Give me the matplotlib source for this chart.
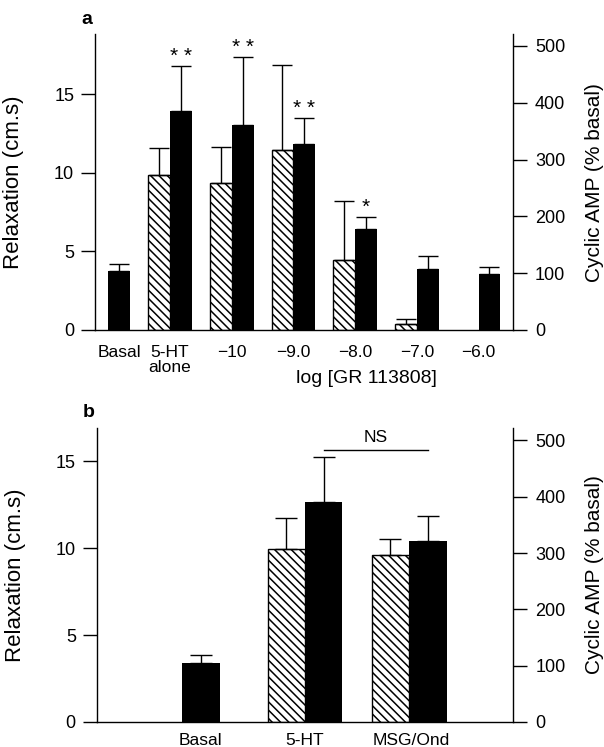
import matplotlib
matplotlib.use("Agg")
import matplotlib.pyplot as plt
import numpy as np

plt.rcParams['font.family'] = ['Liberation Sans', 'DejaVu Sans']
plt.rcParams['hatch.linewidth'] = 1.1
plt.rcParams['axes.linewidth'] = 1.0

# ---- panel a data ----
a_labels = ['Basal', '5-HT\nalone', '\u221210', '\u22129.0', '\u22128.0', '\u22127.0', '\u22126.0']
a_relax_x = [1, 2, 3, 4, 5]
a_relax = [9.85, 9.33, 11.44, 4.45, 0.38]
a_relax_err = [1.75, 2.32, 5.41, 3.75, 0.34]
a_camp_x = [0, 1, 2, 3, 4, 5, 6]
a_camp = [103, 386, 361, 327, 177, 107, 99]
a_camp_err = [13, 79, 119, 46, 21, 23, 12]
a_stars = ['', '**', '**', '**', '*', '', '']

# ---- panel b data ----
b_labels = ['Basal', '5-HT', 'MSG/Ond']
b_relax_x = [1, 2]
b_relax = [9.96, 9.62]
b_relax_err = [1.74, 0.91]
b_camp_x = [0, 1, 2]
b_camp = [104, 390, 321]
b_camp_err = [15, 80, 45]

W, H = 604, 747
fig = plt.figure(figsize=(W / 100, H / 100), dpi=100)


def px_axes(left, right, top, bottom):
    return fig.add_axes([left / W, 1 - bottom / H, (right - left) / W, (bottom - top) / H])


def style(ax, ax2, ymax, ymax2, xpad):
    ax.set_ylim(0, ymax)
    ax2.set_ylim(0, ymax2)
    for s in ['top', 'right']:
        ax.spines[s].set_visible(False)
    for s in ['top', 'left', 'bottom']:
        ax2.spines[s].set_visible(False)
    ax.tick_params(axis='y', direction='out', length=10, width=1.0, labelsize=13, pad=5)
    ax.tick_params(axis='x', length=0, labelsize=12.5, pad=xpad)
    ax2.tick_params(axis='y', direction='out', length=10, width=1.0, labelsize=13, pad=6)
    ax.set_yticks([0, 5, 10, 15])
    ax2.set_yticks([0, 100, 200, 300, 400, 500])
    ax.set_ylabel('Relaxation (cm.s)', fontsize=16)
    ax2.set_ylabel('Cyclic AMP (% basal)', fontsize=15)
    ax.yaxis.set_label_coords(-0.17, 0.5)
    ax2.yaxis.set_label_coords(1.172, 0.5)


err_kw = dict(fmt='none', ecolor='black', elinewidth=1.0, capthick=1.0)

# ---------------- panel a ----------------
ax = px_axes(95, 512.7, 34.5, 330)
ax2 = ax.twinx()
w = 0.355
ax.bar(a_relax_x, a_relax, width=-w, align='edge', facecolor='white',
       edgecolor='black', hatch='\\\\\\\\', linewidth=1.0, zorder=2)
ax.errorbar(np.array(a_relax_x) - w / 2, a_relax,
            yerr=[np.zeros(len(a_relax)), a_relax_err], capsize=7, **err_kw)
ax2.bar(a_camp_x, a_camp, width=w, align='edge', color='black', linewidth=0)
ax2.errorbar(np.array(a_camp_x) + w / 2, a_camp,
             yerr=[np.zeros(len(a_camp)), a_camp_err], capsize=7, **err_kw)
for x, v, e, s in zip(a_camp_x, a_camp, a_camp_err, a_stars):
    if s:
        ax2.annotate(s.replace('**', '* *'), (x + w / 2, v + e), xytext=(0, 3),
                     textcoords='offset points', ha='center', va='baseline', fontsize=15)
ax.set_xlim(-0.216, 6.554)
ax.set_xticks([w / 2, 1, 2, 3, 4, 5, 6])
ax.set_xticklabels(a_labels, linespacing=1.0)
style(ax, ax2, 18.8, 520, 11)
ax.text(0.65, -0.165, 'log [GR 113808]', transform=ax.transAxes,
        ha='center', va='center', fontsize=14)
fig.text(81.7 / W, 1 - 23.5 / H, 'a', fontsize=14, fontweight='bold')

# ---------------- panel b ----------------
bx = px_axes(96.7, 513.3, 428, 722)
bx2 = bx.twinx()
wb = 0.36
bx.bar(b_relax_x, b_relax, width=-wb, align='edge', facecolor='white',
       edgecolor='black', hatch='\\\\\\\\', linewidth=1.0, zorder=2)
bx.errorbar(np.array(b_relax_x) - wb / 2, b_relax,
            yerr=[np.zeros(len(b_relax)), b_relax_err], capsize=8, **err_kw)
# basal bar is centred on its position, the others sit to the right
b_camp_left = [0 - wb / 2] + list(b_camp_x[1:])
bx2.bar(b_camp_left, b_camp, width=wb, align='edge', color='black', linewidth=0)
bx2.errorbar(np.array(b_camp_left) + wb / 2, b_camp,
             yerr=[np.zeros(len(b_camp)), b_camp_err], capsize=8, **err_kw)
bx2.plot([1 + wb / 2, 2 + wb / 2], [483, 483], color='black', lw=1.0)
bx2.text(1.5 + wb / 2, 492, 'NS', ha='center', va='bottom', fontsize=12.5)
bx.set_xlim(-1, 3)
bx.set_xticks([0, 1, 2 + 0.02])
bx.set_xticklabels(b_labels)
style(bx, bx2, 16.9, 522, 8)
fig.text(83 / W, 1 - 417 / H, 'b', fontsize=14, fontweight='bold')

fig.savefig('out.png', dpi=100)
